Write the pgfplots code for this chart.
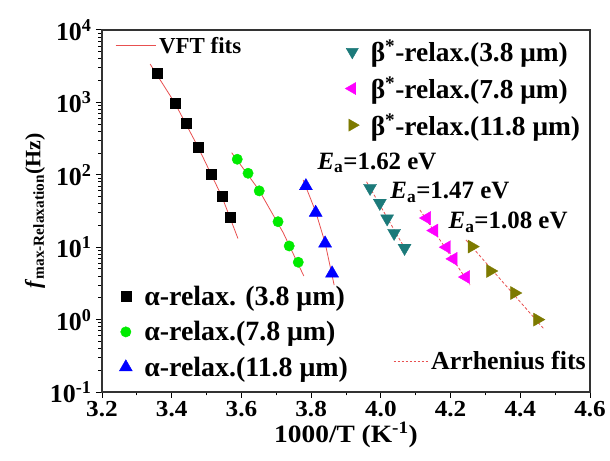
\documentclass[border=0pt]{standalone}
\usepackage{fontspec}
\setmainfont{Liberation Serif}
\newfontfamily\widefont{Liberation Serif}[FakeStretch=1.1]
\usepackage{pgfplots}
\pgfplotsset{compat=1.18}
\definecolor{vft}{RGB}{232,80,80}
\definecolor{tealc}{RGB}{28,122,122}
\definecolor{olivec}{RGB}{125,122,0}
\definecolor{magc}{RGB}{255,0,255}
\definecolor{greenc}{RGB}{0,235,0}
\tikzset{efont/.style={font=\bfseries\fontsize{25}{28}\selectfont}}
\begin{document}
\begin{tikzpicture}
\begin{axis}[width=488bp,height=362bp,scale only axis,
  xmin=3.2,xmax=4.6,ymode=log,ymin=0.1,ymax=10000,
  axis line style={line width=1.2pt, black!80},
  tick pos=left, tick align=outside,
  xtick={3.2,3.4,3.6,3.8,4.0,4.2,4.4,4.6},
  xticklabels={3.2,3.4,3.6,3.8,4.0,4.2,4.4,4.6},
  minor xtick={3.3,3.5,3.7,3.9,4.1,4.3,4.5},
  ytick={0.1,1,10,100,1000,10000},
  yticklabels={10\textsuperscript{-1},10\textsuperscript{0},10\textsuperscript{1},10\textsuperscript{2},10\textsuperscript{3},10\textsuperscript{4}},
  minor ytick={0.2,0.3,0.4,0.5,0.6,0.7,0.8,0.9,2,3,4,5,6,7,8,9,20,30,40,50,60,70,80,90,200,300,400,500,600,700,800,900,2000,3000,4000,5000,6000,7000,8000,9000},
  xticklabel style={font=\widefont\bfseries\fontsize{23}{26}\selectfont},
  yticklabel style={font=\bfseries\fontsize{26}{28}\selectfont, xshift=-1bp},
  major tick length=6bp, minor tick length=3.5bp,
  tick style={line width=1pt, black},
  xlabel={1000/T (K\textsuperscript{-1})},
  xlabel style={font=\widefont\bfseries\fontsize{25}{28}\selectfont, yshift=2bp},
  ylabel={\textit{f}\textsubscript{max-Relaxation}(Hz)},
  ylabel style={font=\bfseries\fontsize{22}{26}\selectfont, yshift=-2bp},
  legend style={at={(axis description cs:0.029,0.304)}, anchor=north west, draw=none, fill=none,
    font=\bfseries\fontsize{28}{30}\selectfont, row sep=10.5bp,
    /tikz/every odd column/.append style={column sep=10bp}},
  legend cell align=left,
]
\coordinate (bl) at (rel axis cs:0,0);
\coordinate (tr) at (rel axis cs:1,1);
\addplot[only marks, mark=square*, mark size=5bp, black] coordinates {
(3.358,2547) (3.409,981) (3.441,519) (3.475,242) (3.513,103) (3.544,51) (3.567,26)};
\addlegendentry{α-relax. (3.8 μm)}
\addplot[only marks, mark=*, mark size=5.2bp, greenc] coordinates {
(3.588,164) (3.619,105) (3.651,60) (3.705,22.5) (3.737,10.4) (3.763,6.2)};
\addlegendentry{α-relax.(7.8 μm)}
\addplot[only marks, mark=triangle*, mark size=7.5bp, blue] coordinates {
(3.785,70) (3.813,30) (3.840,11.3) (3.860,4.36)};
\addlegendentry{α-relax.(11.8 μm)}
% VFT fits
\addplot[vft, line width=0.8pt, forget plot] coordinates {(3.338,3390) (3.409,980) (3.475,245) (3.544,50) (3.590,13.2)};
\addplot[vft, line width=0.8pt, forget plot] coordinates {(3.572,202) (3.65,62) (3.72,15.8) (3.779,4.0)};
\addplot[vft, line width=0.8pt, forget plot] coordinates {(3.777,85) (3.813,31) (3.840,11.5) (3.866,3.0)};
% Arrhenius fits
\addplot[vft, line width=0.8pt, densely dashed, forget plot] coordinates {(3.959,80) (4.074,8.7)};
\addplot[vft, line width=0.8pt, densely dashed, forget plot] coordinates {(4.112,32.7) (4.256,3.0)};
\addplot[vft, line width=0.8pt, densely dashed, forget plot] coordinates {(4.244,12.6) (4.466,0.76)};
% beta
\addplot[only marks, mark=triangle*, mark options={rotate=180}, mark size=7.5bp, tealc, forget plot] coordinates {
(3.969,65.7) (3.997,40.8) (4.018,24.9) (4.038,15.7) (4.068,9.75)};
\addplot[only marks, mark=triangle*, mark options={rotate=90}, mark size=7.5bp, magc, forget plot] coordinates {
(4.132,25.3) (4.153,17.0) (4.189,10.0) (4.208,6.9) (4.244,3.87)};
\addplot[only marks, mark=triangle*, mark options={rotate=-90}, mark size=7.5bp, olivec, forget plot] coordinates {
(4.261,10.2) (4.314,4.69) (4.383,2.33) (4.449,1.0)};
\node[efont] at (axis cs:3.989,146) {\textit{E}\textsubscript{a}=1.62 eV};
\node[efont] at (axis cs:4.198,57.8) {\textit{E}\textsubscript{a}=1.47 eV};
\node[efont] at (axis cs:4.365,22.3) {\textit{E}\textsubscript{a}=1.08 eV};
\end{axis}
\begin{axis}[width=488bp,height=362bp,scale only axis,
  xmin=3.2,xmax=4.6,ymode=log,ymin=0.1,ymax=10000, hide axis,
  legend style={at={(axis description cs:0.492,0.983)}, anchor=north west, draw=none, fill=none,
    font=\bfseries\fontsize{27.5}{30}\selectfont, row sep=9.5bp,
    /tikz/every odd column/.append style={column sep=9.5bp}},
  legend cell align=left]
\addlegendimage{only marks, mark=triangle*, mark options={rotate=180}, mark size=7bp, tealc}
\addlegendentry{β\textsuperscript{*}-relax.(3.8 μm)}
\addlegendimage{only marks, mark=triangle*, mark options={rotate=90}, mark size=7bp, magc}
\addlegendentry{β\textsuperscript{*}-relax.(7.8 μm)}
\addlegendimage{only marks, mark=triangle*, mark options={rotate=-90}, mark size=7bp, olivec}
\addlegendentry{β\textsuperscript{*}-relax.(11.8 μm)}
\end{axis}
\begin{axis}[width=488bp,height=362bp,scale only axis,
  xmin=3.2,xmax=4.6,ymode=log,ymin=0.1,ymax=10000, hide axis,
  legend style={at={(axis description cs:0.0205,0.9920)}, anchor=north west, draw=none, fill=none,
    font=\bfseries\fontsize{23}{26}\selectfont,
    /tikz/every odd column/.append style={column sep=1bp}},
  legend image code/.code={\draw[draw=vft, line width=1pt] (0bp,0bp) -- (40bp,0bp);}]
\addlegendimage{draw=vft}
\addlegendentry{VFT fits}
\end{axis}
\begin{axis}[width=488bp,height=362bp,scale only axis,
  xmin=3.2,xmax=4.6,ymode=log,ymin=0.1,ymax=10000, hide axis,
  legend style={at={(axis description cs:0.590,0.124)}, anchor=north west, draw=none, fill=none,
    font=\bfseries\fontsize{26}{28}\selectfont,
    /tikz/every odd column/.append style={column sep=0bp}},
  legend image code/.code={\draw[draw=vft, line width=1pt, dash pattern=on 2.5bp off 1.5bp] (0bp,0bp) -- (35bp,0bp);}]
\addlegendimage{draw=vft}
\addlegendentry{Arrhenius fits}
\end{axis}
\pgfresetboundingbox
\path ([xshift=-102bp,yshift=-69bp]bl) rectangle ([xshift=20bp,yshift=30bp]tr);
\end{tikzpicture}
\end{document}
